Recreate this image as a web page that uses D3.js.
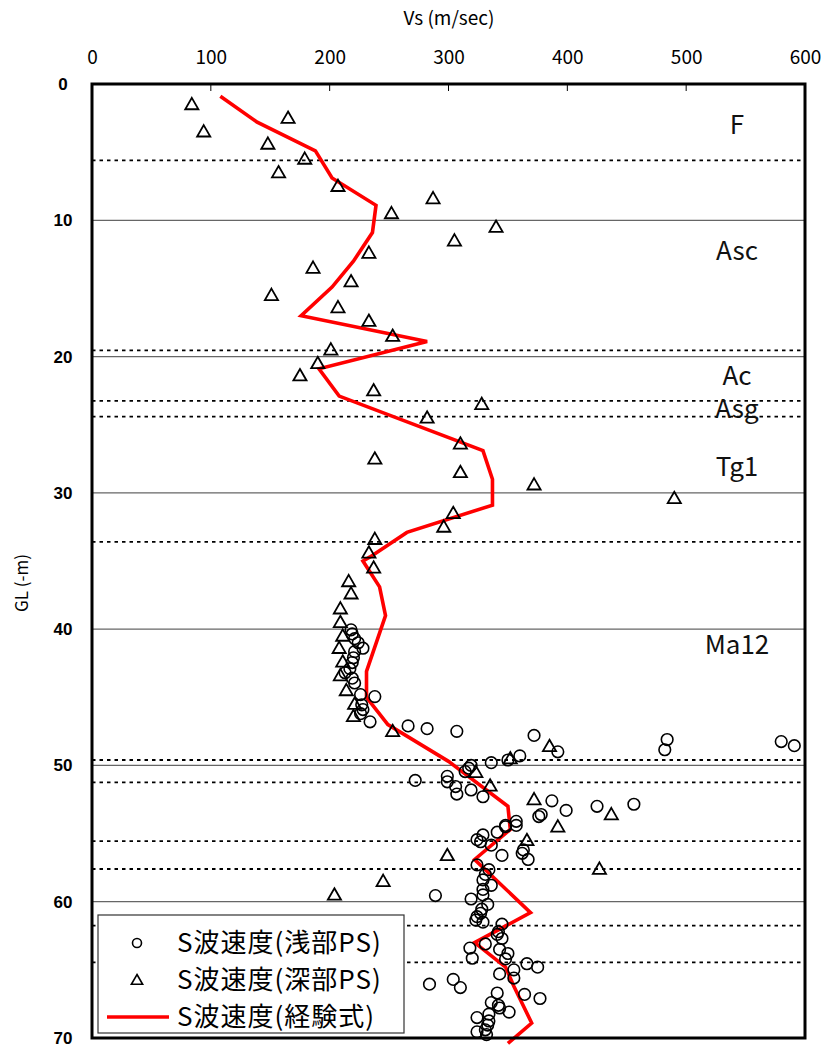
<!DOCTYPE html>
<html><head><meta charset="utf-8">
<script src="https://cdn.jsdelivr.net/npm/d3@7/dist/d3.min.js"></script>
<style>body{margin:0;background:#fff}svg{display:block}</style>
</head><body>
<svg id="c" width="826" height="1048"></svg>
<script>
// ---- data ----
const xTicks = [0,100,200,300,400,500,600];
const yTicks = [0,10,20,30,40,50,60,70];
const solidDepths = [10,20,30,40,50,60];
const dashedDepths = [5.6,19.55,23.25,24.4,33.6,49.6,51.25,55.55,57.6,61.75,64.45];
const layerNames = ["F","Asc","Ac","Asg","Tg1","Ma12"];
const layerDepths = [3.0,12.25,21.4,23.85,28.1,41.2];
// 経験式 (Vs, depth)
const empVs    = [108,139,188,202,239,236,220,202,176,282,191,208,329,337,337,265,234,228,242,247,231,231,249,300,350,352,322,369,322,348,355,370,350];
const empDepth = [0.9,2.8,4.9,6.9,8.9,10.9,13.0,14.9,17.0,18.9,20.9,22.9,26.9,29.0,30.9,32.9,34.7,35.0,36.9,39.0,43.1,45.0,47.0,49.7,53.0,54.7,56.9,60.8,63.0,64.8,66.2,68.9,70.4];
// 深部PS (triangles)
const deepVs    = [84,165,94,148,179,157,207,287,252,340,305,233,186,218,151,207,233,253,201,190,175,237,328,282,310,238,310,372,490,304,296,238,233,237,216,218,209,209,211,208,211,209,214,221,220,253,385,352,323,335,372,437,392,366,299,427,245,204];
const deepDepth = [1.5,2.5,3.5,4.4,5.5,6.5,7.5,8.4,9.5,10.5,11.5,12.4,13.5,14.5,15.5,16.4,17.4,18.5,19.5,20.5,21.4,22.5,23.5,24.5,26.4,27.5,28.5,29.4,30.4,31.5,32.5,33.4,34.4,35.5,36.5,37.4,38.5,39.5,40.5,41.4,42.4,43.4,44.5,45.5,46.4,47.5,48.6,49.5,50.5,51.5,52.5,53.6,54.5,55.5,56.6,57.6,58.5,59.5];
// 浅部PS (circles)
const shallowVs = [218,219,221,224,228,221,220,219,217,213,219,221,226,238,227,228,226,234,
  266,282,307,372,392,484,482,580,591,360,350,336,319,317,314,272,299,299,306,307,319,329,387,399,425,456,378,376,357,348,
  357,348,341,329,324,327,336,345,363,362,367,324,334,331,329,336,329,329,289,319,333,328,327,324,323,329,345,
  342,345,341,331,318,343,350,348,320,366,375,355,355,343,304,310,284,341,364,377,336,342,343,351,334,324,334,333,324,331,332];
const shallowDepth = [40.05,40.35,40.7,41.0,41.4,41.65,42.1,42.45,42.9,43.2,43.6,43.95,44.8,44.95,45.55,45.9,46.2,46.8,
  47.1,47.3,47.5,47.8,49.0,48.1,48.85,48.25,48.55,49.3,49.6,49.8,50.0,50.2,50.45,51.1,50.8,51.2,51.55,52.1,51.8,52.3,52.6,53.3,53.0,52.85,53.6,53.75,54.1,54.4,
  54.4,54.5,54.9,55.1,55.45,55.6,55.85,56.6,56.2,56.45,56.9,57.3,57.65,58.0,58.4,58.8,59.1,59.5,59.55,59.8,60.2,60.55,60.85,61.1,61.35,61.5,61.65,
  62.2,62.7,62.4,63.1,63.4,63.5,63.8,64.2,64.15,64.55,64.8,65.0,65.6,65.3,65.7,66.3,66.05,66.7,66.8,67.1,67.4,67.6,67.8,68.1,68.25,68.5,68.75,69.05,69.55,69.4,69.75];
const legendLabels = ["S波速度(浅部PS)","S波速度(深部PS)","S波速度(経験式)"];
const xTitle = "Vs (m/sec)";
const yTitle = "GL (-m)";

// ---- layout ----
const L=92, R=805, T=84, B=1038;
const svg = d3.select("#c");
const x = d3.scaleLinear().domain([0,600]).range([L,R]);
const y = d3.scaleLinear().domain([0,70]).range([T,B]);
const jp = "'Noto Sans CJK JP', sans-serif";

// grid lines
svg.append("g").selectAll("line").data(solidDepths).join("line")
  .attr("x1",L).attr("x2",R).attr("y1",d=>y(d)).attr("y2",d=>y(d))
  .attr("stroke","#666").attr("stroke-width",1.2);
svg.append("g").selectAll("line").data(dashedDepths).join("line")
  .attr("x1",L).attr("x2",R).attr("y1",d=>y(d)).attr("y2",d=>y(d))
  .attr("stroke","#000").attr("stroke-width",1.8).attr("stroke-dasharray","3.5,4");

// layer labels
svg.append("g").selectAll("text").data(layerNames).join("text")
  .attr("x",737).attr("y",(d,i)=>y(layerDepths[i])+9)
  .attr("text-anchor","middle").attr("font-family",jp).attr("font-size",26)
  .attr("fill","#111").text(d=>d);

// empirical line
const line = d3.line().x(d=>x(d[0])).y(d=>y(d[1]));
svg.append("path").datum(empVs.map((v,i)=>[v,empDepth[i]]))
  .attr("d",line).attr("fill","none").attr("stroke","#ff0000").attr("stroke-width",3.6)
  .attr("stroke-linejoin","miter");

// circles
svg.append("g").selectAll("circle").data(shallowVs.map((v,i)=>[v,shallowDepth[i]])).join("circle")
  .attr("cx",d=>x(d[0])).attr("cy",d=>y(d[1])).attr("r",5.8)
  .attr("fill","none").attr("stroke","#000").attr("stroke-width",1.6);

// triangles
const tri = d3.symbol().type(d3.symbolTriangle).size(75);
svg.append("g").selectAll("path").data(deepVs.map((v,i)=>[v,deepDepth[i]])).join("path")
  .attr("d",tri).attr("transform",d=>`translate(${x(d[0])},${y(d[1])+1})`)
  .attr("fill","none").attr("stroke","#000").attr("stroke-width",1.8);

// top axis
const topAxis = d3.axisTop(x).tickValues(xTicks).tickSize(0).tickPadding(0);
const gx = svg.append("g").attr("transform",`translate(0,${T})`).call(topAxis);
gx.select(".domain").remove();
gx.selectAll("text").attr("font-family",jp).attr("font-size",19).attr("fill","#000")
  .attr("y",-20);
// inner top ticks
svg.append("g").selectAll("line").data(xTicks.slice(1,-1)).join("line")
  .attr("x1",d=>x(d)).attr("x2",d=>x(d)).attr("y1",T).attr("y2",T+7)
  .attr("stroke","#000").attr("stroke-width",1);

// left axis labels
const leftAxis = d3.axisLeft(y).tickValues(yTicks).tickSize(0).tickPadding(0);
const gy = svg.append("g").attr("transform",`translate(${L},0)`).call(leftAxis);
gy.select(".domain").remove();
gy.selectAll("text").attr("font-family","'Liberation Sans', Arial, sans-serif")
  .attr("font-size",17).attr("font-weight","bold").attr("fill","#000")
  .attr("text-anchor","middle").attr("x",-29);

// frame
svg.append("rect").attr("x",L).attr("y",T).attr("width",R-L).attr("height",B-T)
  .attr("fill","none").attr("stroke","#000").attr("stroke-width",3);

// titles
svg.append("text").attr("x",449).attr("y",25).attr("text-anchor","middle")
  .attr("font-family",jp).attr("font-size",19).text(xTitle);
svg.append("text").attr("transform","translate(28,583) rotate(-90)").attr("text-anchor","middle")
  .attr("font-family",jp).attr("font-size",17).text(yTitle);

// legend
const lg = svg.append("g");
lg.append("rect").attr("x",98).attr("y",915).attr("width",306).attr("height",118)
  .attr("fill","#fff").attr("stroke","#333").attr("stroke-width",1.2);
const rowY = [943,980,1017];
lg.selectAll("text").data(legendLabels).join("text")
  .attr("x",177).attr("y",(d,i)=>rowY[i]+9).attr("font-family",jp).attr("font-size",26)
  .attr("letter-spacing",1).attr("fill","#000").text(d=>d);
lg.append("circle").attr("cx",137).attr("cy",rowY[0]).attr("r",4.5)
  .attr("fill","none").attr("stroke","#000").attr("stroke-width",1.6);
lg.append("path").attr("d",d3.symbol().type(d3.symbolTriangle).size(55))
  .attr("transform",`translate(137,${rowY[1]+1})`)
  .attr("fill","none").attr("stroke","#000").attr("stroke-width",1.6);
lg.append("line").attr("x1",107).attr("x2",169).attr("y1",rowY[2]).attr("y2",rowY[2])
  .attr("stroke","#ff0000").attr("stroke-width",3.6);
</script>
</body></html>
